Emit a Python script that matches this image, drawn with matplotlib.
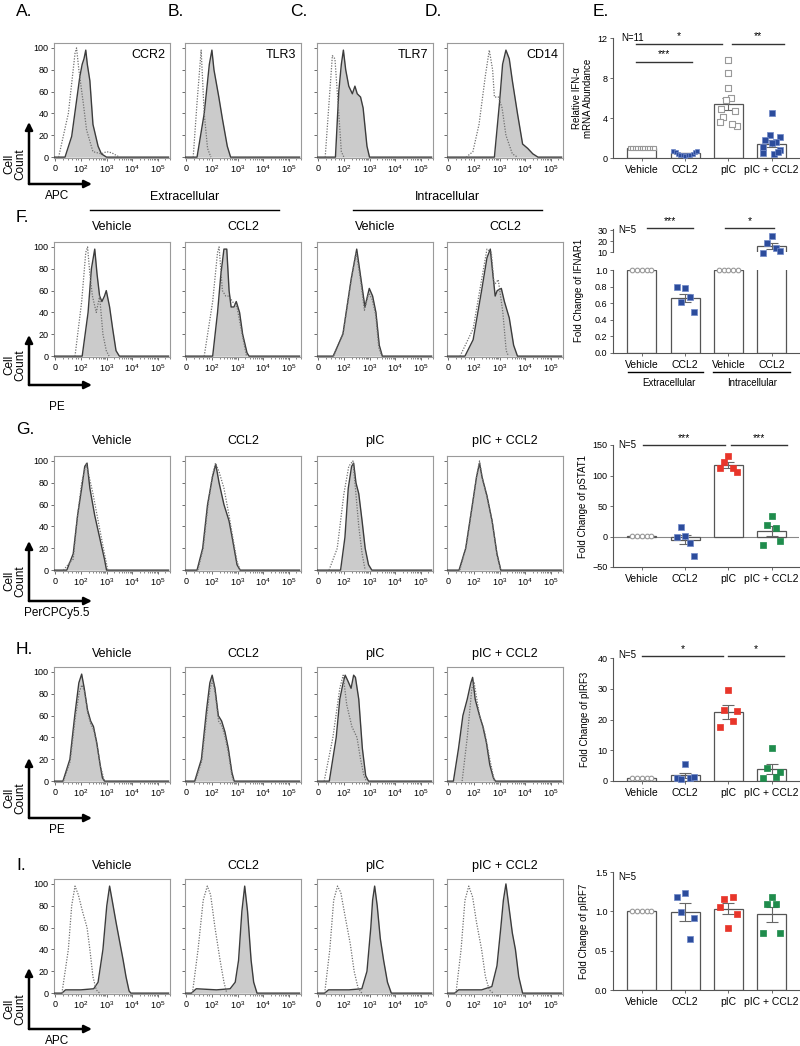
import matplotlib
matplotlib.use('Agg')
import matplotlib.pyplot as plt
import numpy as np
from matplotlib.patches import FancyArrowPatch
from matplotlib.lines import Line2D

plt.rcParams['font.family'] = ['Liberation Sans', 'DejaVu Sans']
plt.rcParams['mathtext.fontset'] = 'custom'
plt.rcParams['mathtext.rm'] = 'Liberation Sans'
plt.rcParams['mathtext.default'] = 'regular'

# ---------------- histogram data: (position on display axis, % of max) ----------------
# display axis: 0 -> "0", 1 -> 10^2, 2 -> 10^3, 3 -> 10^4, 4 -> 10^5
A_stain = [(0.38,0),(0.64,19),(0.96,74),(1.05,85),(1.12,90),(1.19,98),(1.25,85),(1.35,70),(1.47,30),(1.67,10),(1.8,3),(2.0,0)]
A_iso = [(0.13,0),(0.51,40),(0.77,95),(0.83,100),(0.92,80),(1.09,50),(1.22,25),(1.47,5),(1.8,3),(2.0,5),(2.2,4),(2.5,0)]
B_stain = [(0.42,0),(0.7,40),(0.9,85),(1.0,98),(1.08,80),(1.27,55),(1.41,35),(1.6,10),(1.73,0)]
B_iso = [(0.27,0),(0.42,50),(0.58,98),(0.7,40),(0.83,8),(0.96,0)]
C_stain = [(0.67,0),(0.8,60),(0.9,85),(0.98,98),(1.07,80),(1.19,65),(1.33,58),(1.43,65),(1.52,58),(1.65,55),(1.75,45),(1.9,10),(2.0,0)]
C_iso = [(0.27,0),(0.42,50),(0.55,93),(0.65,90),(0.8,40),(0.9,5),(1.0,0)]
D_stain = [(1.8,0),(2.0,50),(2.12,85),(2.25,98),(2.38,90),(2.5,70),(2.7,40),(2.9,12),(3.1,8),(3.3,3),(3.5,0)]
D_iso = [(0.7,0),(0.96,5),(1.2,30),(1.45,75),(1.6,98),(1.73,80),(1.8,55),(1.96,55),(2.1,45),(2.25,20),(2.5,3),(2.7,0)]

F1_stain = [(1.05,0),(1.28,40),(1.41,80),(1.54,98),(1.63,75),(1.73,55),(1.82,50),(1.92,55),(1.99,60),(2.12,45),(2.24,25),(2.37,5),(2.5,0)]
F1_iso = [(0.77,0),(1.03,50),(1.19,95),(1.26,100),(1.35,75),(1.45,55),(1.6,40),(1.73,55),(1.86,20),(1.99,5),(2.1,0)]
F2_stain = [(1.03,0),(1.22,40),(1.35,75),(1.47,98),(1.58,98),(1.67,60),(1.75,45),(1.86,45),(1.95,50),(2.08,40),(2.2,20),(2.37,3),(2.45,0)]
F2_iso = [(0.7,0),(1.03,50),(1.22,95),(1.28,100),(1.41,60),(1.54,55),(1.67,55),(1.8,50),(1.98,45),(2.18,20),(2.35,0)]
F3_stain = [(0.58,0),(0.96,20),(1.28,70),(1.5,98),(1.67,70),(1.82,45),(1.99,62),(2.12,55),(2.25,40),(2.38,10),(2.5,0)]
F3_iso = [(0.6,0),(0.98,22),(1.3,72),(1.48,95),(1.66,68),(1.8,42),(1.97,58),(2.1,52),(2.24,38),(2.36,8),(2.48,0)]
F4_stain = [(0.65,0),(0.97,15),(1.3,60),(1.51,90),(1.64,98),(1.74,75),(1.83,55),(1.91,60),(2.07,62),(2.19,50),(2.38,35),(2.55,10),(2.7,0)]
F4_iso = [(0.46,0),(0.97,25),(1.3,70),(1.51,98),(1.68,95),(1.79,65),(1.95,70),(2.13,40),(2.26,5),(2.35,0)]

G1_stain = [(0.45,0),(0.7,15),(0.87,50),(1.03,75),(1.15,95),(1.24,98),(1.35,75),(1.54,50),(1.73,30),(1.92,10),(2.0,0)]
G1_iso = [(0.32,0),(0.6,8),(0.7,10),(0.87,50),(1.03,80),(1.2,97),(1.28,90),(1.47,70),(1.73,38),(1.92,15),(2.05,0)]
G2_stain = [(0.42,0),(0.64,20),(0.83,60),(1.02,85),(1.15,97),(1.28,80),(1.47,60),(1.67,45),(1.79,30),(1.98,5),(2.1,0)]
G2_iso = [(0.45,0),(0.66,20),(0.85,60),(1.03,88),(1.14,98),(1.28,90),(1.47,75),(1.67,50),(1.8,32),(1.98,8),(2.1,0)]
G3_stain = [(0.87,0),(1.04,30),(1.17,75),(1.3,95),(1.38,98),(1.47,80),(1.58,70),(1.71,45),(1.83,20),(1.96,5),(2.09,0)]
G3_iso = [(0.42,0),(0.74,20),(1.0,70),(1.19,95),(1.35,100),(1.45,75),(1.58,40),(1.71,15),(1.83,0)]
G4_stain = [(0.42,0),(0.68,20),(0.94,60),(1.1,85),(1.22,98),(1.32,85),(1.51,68),(1.71,45),(1.9,15),(2.05,0)]
G4_iso = [(0.45,0),(0.7,22),(0.96,62),(1.12,88),(1.22,100),(1.33,84),(1.52,66),(1.72,44),(1.9,14),(2.05,0)]

H1_stain = [(0.3,0),(0.57,20),(0.76,60),(0.92,90),(1.03,98),(1.13,85),(1.26,65),(1.38,55),(1.49,50),(1.62,35),(1.75,15),(1.84,3),(1.92,0)]
H1_iso = [(0.32,0),(0.58,18),(0.78,58),(0.94,82),(1.04,88),(1.14,82),(1.27,62),(1.39,52),(1.5,47),(1.63,33),(1.76,14),(1.92,0)]
H2_stain = [(0.33,0),(0.59,20),(0.79,65),(0.92,90),(1.01,97),(1.12,85),(1.25,60),(1.38,55),(1.51,45),(1.64,30),(1.78,8),(1.87,0)]
H2_iso = [(0.35,0),(0.6,18),(0.8,60),(0.93,85),(1.03,92),(1.13,80),(1.26,55),(1.4,50),(1.52,40),(1.65,25),(1.78,5),(1.85,0)]
H3_stain = [(0.43,0),(0.7,40),(0.84,75),(0.97,90),(1.05,97),(1.15,92),(1.28,85),(1.38,97),(1.45,95),(1.58,75),(1.72,30),(1.85,5),(1.96,0)]
H3_iso = [(0.23,0),(0.57,40),(0.84,85),(0.97,97),(1.11,70),(1.31,50),(1.51,40),(1.65,20),(1.78,5),(1.88,0)]
H4_stain = [(0.2,0),(0.4,30),(0.57,60),(0.74,75),(0.88,90),(0.95,95),(1.05,75),(1.22,60),(1.35,50),(1.49,35),(1.62,15),(1.76,3),(1.84,0)]
H4_iso = [(0.54,0),(0.74,40),(0.92,85),(1.01,90),(1.22,60),(1.42,45),(1.62,20),(1.8,0)]

I1_stain = [(0.26,0),(0.4,3),(1.0,3),(1.5,4),(1.67,10),(1.86,40),(2.01,80),(2.12,98),(2.22,85),(2.37,65),(2.53,45),(2.65,30),(2.76,15),(2.88,2),(2.95,0)]
I1_iso = [(0.26,0),(0.51,40),(0.64,80),(0.77,98),(0.9,90),(1.06,75),(1.24,60),(1.35,40),(1.47,15),(1.6,3),(1.73,0)]
I2_stain = [(0.2,0),(0.39,4),(1.18,3),(1.71,4),(1.91,10),(2.04,30),(2.17,75),(2.28,98),(2.39,75),(2.53,30),(2.63,10),(2.76,0)]
I2_iso = [(0.24,0),(0.46,40),(0.66,85),(0.82,98),(0.95,90),(1.12,60),(1.32,30),(1.47,10),(1.58,0)]
I3_stain = [(0.25,0),(0.4,3),(1.2,3),(1.7,4),(1.9,20),(2.05,60),(2.12,85),(2.2,98),(2.3,80),(2.42,50),(2.55,30),(2.7,10),(2.85,0)]
I3_iso = [(0.25,0),(0.45,40),(0.6,85),(0.75,98),(0.88,92),(1.05,70),(1.25,45),(1.4,20),(1.55,5),(1.7,0)]
I4_stain = [(0.25,0),(0.4,3),(1.3,3),(1.7,6),(1.9,25),(2.05,60),(2.15,85),(2.25,100),(2.35,82),(2.5,55),(2.62,40),(2.75,15),(2.9,0)]
I4_iso = [(0.3,0),(0.5,40),(0.65,85),(0.8,98),(0.95,88),(1.1,65),(1.3,40),(1.45,15),(1.6,3),(1.75,0)]

xtick_labels = ['0', '10$^2$', '10$^3$', '10$^4$', '10$^5$']
top_markers = ['CCR2', 'TLR3', 'TLR7', 'CD14']
F_titles = ['Vehicle', 'CCL2', 'Vehicle', 'CCL2']
treat_titles = ['Vehicle', 'CCL2', 'pIC', 'pIC + CCL2']

# ---------------- bar chart data ----------------
bar_cats = ['Vehicle', 'CCL2', 'pIC', 'pIC + CCL2']
E_vehicle = [1, 1, 1, 1, 1, 1, 1, 1, 1, 1, 1]
E_ccl2 = [0.75, 0.6, 0.45, 0.35, 0.28, 0.22, 0.28, 0.35, 0.45, 0.6, 0.75]
E_pic = [9.8, 8.5, 7.0, 6.0, 5.8, 4.95, 4.7, 4.1, 3.6, 3.2, 3.4]
E_pic_ccl2 = [4.5, 2.3, 2.1, 1.8, 1.6, 1.5, 1.1, 0.8, 0.5, 0.4, 0.6]
E_means = [1.0, 0.46, 5.4, 1.45]
E_sems = [0.0, 0.06, 0.6, 0.35]

F_cats = ['Vehicle', 'CCL2', 'Vehicle', 'CCL2']
F_ext_vehicle = [1, 1, 1, 1, 1]
F_ext_ccl2 = [0.79, 0.62, 0.78, 0.68, 0.50]
F_int_vehicle = [1, 1, 1, 1, 1]
F_int_ccl2 = [9, 18, 25, 14, 11]
F_means = [1.0, 0.66, 1.0, 15.5]
F_sems = [0.0, 0.05, 0.0, 3.0]

G_vehicle = [1, 1, 1, 1, 1]
G_ccl2 = [0, 16, 1, -10, -32]
G_pic = [112, 122, 132, 113, 106]
G_pic_ccl2 = [-14, 19, 33, 14, -8]
G_means = [1, -5, 117, 9]
G_sems = [0, 8, 5, 8.5]

H_vehicle = [1, 1, 1, 1, 1]
H_ccl2 = [1.1, 0.6, 5.4, 0.9, 1.2]
H_pic = [17.6, 23.0, 29.7, 19.5, 22.7]
H_pic_ccl2 = [1.1, 4.3, 10.6, 1.2, 3.0]
H_means = [1.0, 1.8, 22.5, 4.0]
H_sems = [0.0, 0.8, 2.2, 1.6]

I_vehicle = [1, 1, 1, 1, 1]
I_ccl2 = [1.18, 0.99, 1.23, 0.65, 0.92]
I_pic = [1.05, 1.16, 0.79, 1.18, 0.97]
I_pic_ccl2 = [0.72, 1.09, 1.18, 1.09, 0.72]
I_means = [1.0, 0.99, 1.03, 0.96]
I_sems = [0.0, 0.11, 0.07, 0.10]

# ---------------- figure helpers ----------------
W, H = 800, 1046
fig = plt.figure(figsize=(8, 10.46), dpi=100)

def px_axes(l, t, w, h):
    return fig.add_axes([l / W, 1 - (t + h) / H, w / W, h / H])

def ftext(x, y, s, **kw):
    fig.text(x / W, 1 - y / H, s, **kw)

def fline(x0, x1, y0, y1, **kw):
    fig.add_artist(Line2D([x0 / W, x1 / W], [1 - y0 / H, 1 - y1 / H], transform=fig.transFigure, **kw))

def farrow(x0, y0, x1, y1):
    fig.add_artist(FancyArrowPatch((x0 / W, 1 - y0 / H), (x1 / W, 1 - y1 / H), transform=fig.transFigure,
                                   arrowstyle='-|>', mutation_scale=11, lw=1.8, color='black',
                                   shrinkA=0, shrinkB=0))

minor_pos = [0.3, 0.5, 0.65, 0.8, 0.9] + [d + np.log10(k) for d in (1, 2, 3) for k in range(2, 10)] + [4 + np.log10(k) for k in (2, 3)]

def draw_hist(ax, stain, iso, ylabels, marker=None):
    sx = [-0.05] + [p[0] for p in stain] + [4.42]
    sy = [0] + [p[1] for p in stain] + [0]
    ax.fill_between(sx, sy, 0, color='#cbcbcb', lw=0, zorder=1)
    ax.plot(sx, sy, color='#3c3c3c', lw=1.0, zorder=3)
    ax.plot([p[0] for p in iso], [p[1] for p in iso], color='#707070', lw=0.9, ls=(0, (1, 1.2)), zorder=4)
    ax.set_xlim(-0.05, 4.42)
    ax.set_ylim(-0.8, 104.5)
    for s in ax.spines.values():
        s.set_color('#9a9a9a'); s.set_linewidth(0.8)
    ax.set_xticks(range(5))
    ax.set_xticklabels(xtick_labels)
    ax.set_xticks(minor_pos, minor=True)
    ax.set_yticks(range(0, 101, 20))
    if ylabels:
        ax.set_yticklabels([str(v) for v in range(0, 101, 20)])
    else:
        ax.set_yticklabels([])
    ax.tick_params(axis='both', which='major', labelsize=6.5, length=2.5, width=0.6, color='#555', pad=1.5)
    ax.tick_params(axis='both', which='minor', length=1.3, width=0.5, color='#555')
    ax.tick_params(axis='y', which='minor', left=False)
    if marker:
        ax.text(0.96, 0.9, marker, transform=ax.transAxes, ha='right', va='center', fontsize=9)

col_left = [54, 185, 317, 447]
HW, HH = 116, 115

def cell_count(bottom_arrow, vtip, label, label_y):
    farrow(29, bottom_arrow, 29, vtip)
    farrow(29, bottom_arrow, 92, bottom_arrow)
    ftext(15, bottom_arrow - 20, 'Cell\nCount', rotation=90, ha='center', va='center', fontsize=8.5, linespacing=0.95)
    ftext(57, label_y, label, ha='center', va='center', fontsize=8.5)

# ---------------- Row A-D ----------------
top_A = 43
rowA_data = [(A_stain, A_iso), (B_stain, B_iso), (C_stain, C_iso), (D_stain, D_iso)]
for i, (st, iso) in enumerate(rowA_data):
    ax = px_axes(col_left[i], top_A, HW, HH)
    draw_hist(ax, st, iso, i == 0, top_markers[i])
for lab, x in zip(['A.', 'B.', 'C.', 'D.', 'E.'], [16, 168, 290, 425, 593]):
    ftext(x, 12, lab, ha='left', va='center', fontsize=12.5)
cell_count(184, 122, 'APC', 196)

# ---------------- Row F ----------------
top_F = 242
rowF_data = [(F1_stain, F1_iso), (F2_stain, F2_iso), (F3_stain, F3_iso), (F4_stain, F4_iso)]
for i, (st, iso) in enumerate(rowF_data):
    ax = px_axes(col_left[i], top_F, HW, HH)
    draw_hist(ax, st, iso, i == 0)
    ftext(col_left[i] + HW / 2, top_F - 15, F_titles[i], ha='center', va='center', fontsize=9)
ftext(16, 218, 'F.', ha='left', va='center', fontsize=12.5)
ftext(185, 197, 'Extracellular', ha='center', va='center', fontsize=9)
fline(90, 279, 210, 210, color='black', lw=1.0)
ftext(447, 197, 'Intracellular', ha='center', va='center', fontsize=9)
fline(353, 542, 210, 210, color='black', lw=1.0)
cell_count(385, 335, 'PE', 407)

# ---------------- Row G ----------------
top_G = 456
rowG_data = [(G1_stain, G1_iso), (G2_stain, G2_iso), (G3_stain, G3_iso), (G4_stain, G4_iso)]
for i, (st, iso) in enumerate(rowG_data):
    ax = px_axes(col_left[i], top_G, HW, HH)
    draw_hist(ax, st, iso, i == 0)
    ftext(col_left[i] + HW / 2, top_G - 15, treat_titles[i], ha='center', va='center', fontsize=9)
ftext(16, 430, 'G.', ha='left', va='center', fontsize=12.5)
cell_count(601, 541, 'PerCPCy5.5', 613)

# ---------------- Row H ----------------
top_H = 667
rowH_data = [(H1_stain, H1_iso), (H2_stain, H2_iso), (H3_stain, H3_iso), (H4_stain, H4_iso)]
for i, (st, iso) in enumerate(rowH_data):
    ax = px_axes(col_left[i], top_H, HW, HH)
    draw_hist(ax, st, iso, i == 0)
    ftext(col_left[i] + HW / 2, top_H - 13, treat_titles[i], ha='center', va='center', fontsize=9)
ftext(16, 650, 'H.', ha='left', va='center', fontsize=12.5)
cell_count(818, 758, 'PE', 830)

# ---------------- Row I ----------------
top_I = 879
rowI_data = [(I1_stain, I1_iso), (I2_stain, I2_iso), (I3_stain, I3_iso), (I4_stain, I4_iso)]
for i, (st, iso) in enumerate(rowI_data):
    ax = px_axes(col_left[i], top_I, HW, HH)
    draw_hist(ax, st, iso, i == 0)
    ftext(col_left[i] + HW / 2, top_I - 13, treat_titles[i], ha='center', va='center', fontsize=9)
ftext(16, 866, 'I.', ha='left', va='center', fontsize=12.5)
cell_count(1029, 968, 'APC', 1041)

# ---------------- bar charts ----------------
BLUE, RED, GREEN = '#2c4c9c', '#e8352a', '#1f8c4c'
BL, BR = 613, 186
BAR_W = 0.67

def style_bar_ax(ax, ylabel, labelpad=2):
    ax.set_xlim(-0.67, 3.63)
    for s in ('top', 'right'):
        ax.spines[s].set_visible(False)
    for s in ('left', 'bottom'):
        ax.spines[s].set_color('#555'); ax.spines[s].set_linewidth(0.8)
    ax.tick_params(axis='y', labelsize=6.5, length=2.5, width=0.6, color='#555', pad=1.5)
    ax.tick_params(axis='x', labelsize=7.5, length=2, width=0.6, color='#555', pad=3)
    if ylabel:
        ax.set_ylabel(ylabel, fontsize=7, labelpad=labelpad)

def offsets(n, spread):
    return np.linspace(-spread, spread, n)

def draw_bars(ax, means, sems):
    for i, (m, s) in enumerate(zip(means, sems)):
        ax.bar(i, m, width=BAR_W, facecolor='white', edgecolor='#555', lw=0.9, zorder=1)
        if s > 0:
            ax.errorbar(i, m, yerr=s, color='#666', lw=0.8, capsize=4, capthick=0.8, zorder=2)

def draw_points(ax, i, vals, color, marker='s', open_=False, offs=None, size=13):
    if offs is None:
        offs = offsets(len(vals), 0.2)
    xs = [i + o for o in offs]
    if open_:
        ax.scatter(xs, vals, marker=marker, s=size, facecolor='white', edgecolor='#999', lw=0.8, zorder=5, clip_on=False)
    else:
        ax.scatter(xs, vals, marker=marker, s=size, facecolor=color, edgecolor='#6f88c8' if color == BLUE else color,
                   lw=0.5, zorder=5, clip_on=False)

def sig(ax, x0, x1, y, txt, ty):
    ax.plot([x0, x1], [y, y], color='#333', lw=1.0, clip_on=False)
    ax.text((x0 + x1) / 2, ty, txt, ha='center', va='center', fontsize=7.5)

# E
axE = px_axes(BL, 38, BR, 120)
draw_bars(axE, E_means, E_sems)
draw_points(axE, 0, E_vehicle, None, open_=True, offs=offsets(11, 0.28), size=11)
draw_points(axE, 1, E_ccl2, BLUE, offs=offsets(11, 0.28), size=11)
draw_points(axE, 2, E_pic, None, open_=True, offs=[0, 0, 0, 0.05, -0.05, -0.17, 0.15, -0.12, -0.2, 0.2, 0.08], size=16)
draw_points(axE, 3, E_pic_ccl2, BLUE, offs=[0, -0.05, 0.2, -0.15, 0.1, 0.0, -0.2, 0.2, -0.2, 0.05, 0.15], size=16)
axE.set_ylim(0, 12)
axE.set_yticks([0, 4, 8, 12])
axE.set_xticks(range(4))
axE.set_xticklabels(bar_cats)
style_bar_ax(axE, 'Relative IFN-\u03b1\nmRNA Abundance', labelpad=3)
axE.text(-0.47, 12, 'N=11', fontsize=7, ha='left', va='center')
sig(axE, -0.14, 1.86, 11.4, '*', 12.2)
sig(axE, 2.09, 3.28, 11.4, '**', 12.2)
sig(axE, -0.14, 1.16, 9.6, '***', 10.4)

# F (broken axis)
axFl = px_axes(BL, 270, BR, 83)
axFu = px_axes(BL, 229, BR, 23)
for ax in (axFl, axFu):
    draw_bars(ax, F_means, F_sems)
draw_points(axFl, 0, F_ext_vehicle, None, marker='o', open_=True, offs=offsets(5, 0.22), size=11)
draw_points(axFl, 1, F_ext_ccl2, BLUE, size=16)
draw_points(axFl, 2, F_int_vehicle, None, marker='o', open_=True, offs=offsets(5, 0.22), size=11)
draw_points(axFu, 3, F_int_ccl2, BLUE, size=16)
axFl.set_ylim(0, 1.0)
axFl.set_yticks([0, 0.2, 0.4, 0.6, 0.8, 1.0])
axFl.set_yticklabels(['0.0', '0.2', '0.4', '0.6', '0.8', '1.0'])
axFl.set_xticks(range(4))
axFl.set_xticklabels(F_cats)
style_bar_ax(axFl, 'Fold Change of IFNAR1', labelpad=4)
axFl.yaxis.set_label_coords(-0.155, 0.75)
axFu.set_ylim(10, 31)
axFu.set_yticks([10, 20, 30])
style_bar_ax(axFu, None)
axFu.spines['bottom'].set_visible(False)
axFu.set_xticks([])
axFu.text(-0.56, 30, 'N=5', fontsize=7, ha='left', va='center')
sig(axFu, 0.12, 1.19, 32, '***', 38)
sig(axFu, 1.93, 3.05, 32, '*', 38)
fline(628, 703, 372, 372, color='black', lw=1.0)
fline(713, 790, 372, 372, color='black', lw=1.0)
ftext(669, 383, 'Extracellular', ha='center', va='center', fontsize=7)
ftext(752, 383, 'Intracellular', ha='center', va='center', fontsize=7)

# G
axG = px_axes(BL, 445, BR, 122)
draw_bars(axG, G_means, G_sems)
axG.axhline(0, color='#888', lw=0.8, zorder=0.5)
draw_points(axG, 0, G_vehicle, None, marker='o', open_=True, offs=offsets(5, 0.22), size=11)
draw_points(axG, 1, G_ccl2, BLUE, size=16)
draw_points(axG, 2, G_pic, RED, size=16)
draw_points(axG, 3, G_pic_ccl2, GREEN, size=16)
axG.set_ylim(-50, 150)
axG.set_yticks([-50, 0, 50, 100, 150])
axG.set_xticks(range(4))
axG.set_xticklabels(bar_cats)
style_bar_ax(axG, 'Fold Change of pSTAT1', labelpad=3)
axG.text(-0.56, 150, 'N=5', fontsize=7, ha='left', va='center')
sig(axG, 0.02, 1.93, 150, '***', 161)
sig(axG, 2.05, 3.35, 150, '***', 161)

# H
axH = px_axes(BL, 658, BR, 123)
draw_bars(axH, H_means, H_sems)
draw_points(axH, 0, H_vehicle, None, marker='o', open_=True, offs=offsets(5, 0.22), size=11)
draw_points(axH, 1, H_ccl2, BLUE, size=16)
draw_points(axH, 2, H_pic, RED, size=16)
draw_points(axH, 3, H_pic_ccl2, GREEN, size=16)
axH.set_ylim(0, 40)
axH.set_yticks([0, 10, 20, 30, 40])
axH.set_xticks(range(4))
axH.set_xticklabels(bar_cats)
style_bar_ax(axH, 'Fold Change of pIRF3', labelpad=5)
axH.text(-0.56, 41, 'N=5', fontsize=7, ha='left', va='center')
sig(axH, 0.0, 1.88, 40.5, '*', 43)
sig(axH, 2.0, 3.28, 40.5, '*', 43)

# I
axI = px_axes(BL, 872, BR, 118)
draw_bars(axI, I_means, I_sems)
draw_points(axI, 0, I_vehicle, None, marker='o', open_=True, offs=offsets(5, 0.22), size=11)
draw_points(axI, 1, I_ccl2, BLUE, size=16)
draw_points(axI, 2, I_pic, RED, size=16)
draw_points(axI, 3, I_pic_ccl2, GREEN, size=16)
axI.set_ylim(0, 1.5)
axI.set_yticks([0, 0.5, 1.0, 1.5])
axI.set_yticklabels(['0.0', '0.5', '1.0', '1.5'])
axI.set_xticks(range(4))
axI.set_xticklabels(bar_cats)
style_bar_ax(axI, 'Fold Change of pIRF7', labelpad=4)
axI.text(-0.56, 1.44, 'N=5', fontsize=7, ha='left', va='center')

fig.savefig('out.png', dpi=100)
